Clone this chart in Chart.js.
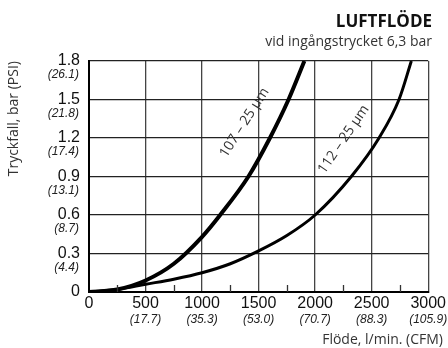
<!DOCTYPE html>
<html>
<head>
<meta charset="utf-8">
<script src="https://cdn.jsdelivr.net/npm/chart.js@4"></script>
<style>
    html, body { margin: 0; padding: 0; background: #fff; }
    canvas { display: block; }
</style>
</head>
<body>
<canvas id="flowChart" width="448" height="348"></canvas>
<script>
// 流量（l/min）と圧力損失（bar）のデータ
const flow107 = [0, 250, 500, 750, 1000, 1160, 1410, 1600, 1765, 1905];
const drop107 = [0, 0.02, 0.09, 0.22, 0.43, 0.6, 0.9, 1.2, 1.5, 1.8];
const flow112 = [0, 250, 500, 750, 1000, 1250, 1500, 1750, 2000, 2320, 2565, 2742, 2851];
const drop112 = [0, 0.02, 0.06, 0.1, 0.15, 0.22, 0.32, 0.44, 0.6, 0.9, 1.2, 1.5, 1.8];

// 目盛りラベル（括弧内は換算値）
const barTicks = [0.3, 0.6, 0.9, 1.2, 1.5, 1.8];
const psiLabels = ['(4.4)', '(8.7)', '(13.1)', '(17.4)', '(21.8)', '(26.1)'];
const flowTicks = [500, 1000, 1500, 2000, 2500, 3000];
const cfmLabels = ['(17.7)', '(35.3)', '(53.0)', '(70.7)', '(88.3)', '(105.9)'];
const minorTicks = [250, 750, 1250, 1750, 2250, 2750];

// 曲線ラベル
const curveNames = ['107 – 25 µm', '112 – 25 µm'];
const curveLabelAt = [[1375, 1.32], [2252, 1.19]];

function toPoints(xs, ys) {
    return xs.map((x, i) => ({ x: x, y: ys[i] }));
}

// タイトル・補助ラベルを描くプラグイン
const extraText = {
    id: 'extraText',
    afterDraw(chart) {
        const ctx = chart.ctx;
        const xs = chart.scales.x;
        const ys = chart.scales.y;
        const area = chart.chartArea;
        ctx.save();

        // 小目盛り
        ctx.strokeStyle = '#333';
        ctx.lineWidth = 1.3;
        minorTicks.forEach(v => {
            const px = Math.round(xs.getPixelForValue(v)) + 0.5;
            ctx.beginPath();
            ctx.moveTo(px, area.bottom);
            ctx.lineTo(px, area.bottom - 7);
            ctx.stroke();
        });

        // PSI 値
        ctx.fillStyle = '#222';
        ctx.font = 'italic 12px "Liberation Sans", Arial, sans-serif';
        ctx.textAlign = 'right';
        ctx.textBaseline = 'middle';
        barTicks.forEach((v, i) => {
            ctx.fillText(psiLabels[i], area.left - 10, ys.getPixelForValue(v) + 14);
        });

        // CFM 値
        ctx.textAlign = 'center';
        flowTicks.forEach((v, i) => {
            ctx.fillText(cfmLabels[i], xs.getPixelForValue(v), area.bottom + 28);
        });

        // 見出し
        ctx.textAlign = 'right';
        ctx.textBaseline = 'alphabetic';
        ctx.font = 'bold 17px "Open Sans", sans-serif';
        ctx.fillStyle = '#111';
        ctx.fillText('LUFTFLÖDE', 432, 27);
        ctx.font = '14px "Open Sans", sans-serif';
        ctx.fillStyle = '#333';
        ctx.fillText('vid ingångstrycket 6,3 bar', 432, 46);

        // X軸タイトル
        ctx.textBaseline = 'middle';
        ctx.fillText('Flöde, l/min. (CFM)', 443, 340);

        // 曲線名（斜め）
        ctx.font = '14px "Open Sans", sans-serif';
        ctx.textAlign = 'center';
        const angles = [-57.5, -55.7];
        curveNames.forEach((name, i) => {
            const px = xs.getPixelForValue(curveLabelAt[i][0]);
            const py = ys.getPixelForValue(curveLabelAt[i][1]);
            ctx.save();
            ctx.translate(px, py);
            ctx.rotate(angles[i] * Math.PI / 180);
            ctx.fillText(name, 0, 0);
            ctx.restore();
        });

        ctx.restore();
    }
};

const ctx = document.getElementById('flowChart').getContext('2d');
new Chart(ctx, {
    type: 'line',
    data: {
        datasets: [{
            label: curveNames[0],
            data: toPoints(flow107, drop107),
            borderColor: '#000',
            borderWidth: 4,
            pointRadius: 0,
            cubicInterpolationMode: 'monotone',
            fill: false
        }, {
            label: curveNames[1],
            data: toPoints(flow112, drop112),
            borderColor: '#000',
            borderWidth: 3,
            pointRadius: 0,
            cubicInterpolationMode: 'monotone',
            fill: false
        }]
    },
    options: {
        responsive: false,
        animation: false,
        layout: { padding: { top: 61, right: 17, left: 0, bottom: 0 } },
        plugins: {
            legend: { display: false },
            tooltip: { enabled: false }
        },
        scales: {
            x: {
                type: 'linear',
                min: 0,
                max: 3000,
                afterFit(scale) { scale.height = 56; },
                ticks: {
                    stepSize: 500,
                    color: '#111',
                    padding: 2,
                    maxRotation: 0,
                    autoSkip: false,
                    font: { size: 16, family: '"Liberation Sans", Arial, sans-serif' },
                    callback: v => String(v)
                },
                grid: { color: '#444', lineWidth: 1.3, drawTicks: false },
                border: { color: '#000', width: 2 }
            },
            y: {
                min: 0,
                max: 1.8,
                afterFit(scale) { scale.width = 89; },
                ticks: {
                    stepSize: 0.3,
                    color: '#111',
                    padding: 9,
                    autoSkip: false,
                    font: { size: 16, family: '"Liberation Sans", Arial, sans-serif' },
                    callback: v => (v === 0 ? '0' : v.toFixed(1))
                },
                grid: { color: '#222', lineWidth: 1.3, drawTicks: false },
                border: { color: '#000', width: 2 },
                title: {
                    display: true,
                    text: 'Tryckfall, bar (PSI)',
                    align: 'end',
                    color: '#333',
                    padding: { top: 6, bottom: 0 },
                    font: { size: 14, family: '"Open Sans", sans-serif' }
                }
            }
        }
    },
    plugins: [extraText]
});
</script>
</body>
</html>
